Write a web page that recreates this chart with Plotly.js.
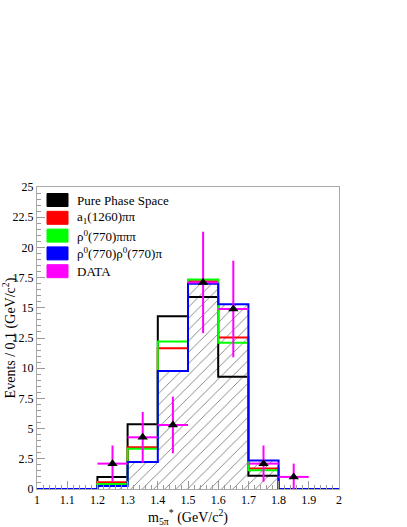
<!DOCTYPE html>
<html>
<head>
<meta charset="utf-8">
<script src="https://cdn.plot.ly/plotly-3.0.1.min.js"></script>
<style>html,body{margin:0;padding:0;background:#fff;}</style>
</head>
<body>
<div id="chart" style="width:407px;height:527px;"></div>
<script>
// Bin lower edges (width 0.1 GeV/c^2)
const binLow = [1.0, 1.1, 1.2, 1.3, 1.4, 1.5, 1.6, 1.7, 1.8, 1.9];
const binWidth = 0.1;

// MC histograms (events per bin)
const phaseSpace = [0, 0, 1.0, 5.35, 14.3, 15.9, 9.3, 1.1, 0, 0];
const a1PiPi     = [0, 0, 0.55, 3.45, 11.65, 17.2, 12.55, 1.7, 0, 0];
const rhoPiPiPi  = [0, 0, 0.42, 3.33, 12.2, 17.35, 12.1, 1.55, 0, 0];
const rhoRhoPi   = [0, 0, 0.25, 2.24, 9.77, 17.0, 15.3, 2.35, 0, 0];

// Data points
const dataX   = [1.25, 1.35, 1.45, 1.55, 1.65, 1.75, 1.85];
const dataY   = [2.1, 4.28, 5.3, 17.1, 14.9, 2.1, 1.0];
const dataErr = [1.5, 2.1, 2.35, 4.2, 4.0, 1.5, 1.1];

// Legend
const legendNames  = ['Pure Phase Space', 'a<sub>1</sub>(1260)ππ', 'ρ<sup>0</sup>(770)πππ', 'ρ<sup>0</sup>(770)ρ<sup>0</sup>(770)π', 'DATA'];
const legendColors = ['#000000', '#ff0000', '#00ff00', '#0000ff', '#ff00ff'];

const edges = binLow.concat([binLow[binLow.length - 1] + binWidth]);
function stepY(v) { return v.concat([v[v.length - 1]]); }
function step(v, color, w) {
  return {type: 'scatter', mode: 'lines', x: edges, y: stepY(v),
    line: {shape: 'hv', color: color, width: w}, showlegend: false, hoverinfo: 'skip'};
}

const centers = binLow.map(b => b + binWidth / 2);
const traces = [
  {type: 'bar', x: centers, y: rhoRhoPi, width: binWidth,
   marker: {color: 'rgba(255,255,255,0)', line: {width: 0},
            pattern: {shape: '/', fgcolor: '#6e6e6e', bgcolor: 'rgba(255,255,255,0)', size: 8, solidity: 0.1}},
   showlegend: false, hoverinfo: 'skip'},
  step(phaseSpace, '#000000', 2),
  step(a1PiPi, '#ff0000', 2),
  step(rhoPiPiPi, '#00ff00', 2),
  step(rhoRhoPi, '#0000ff', 2),
  {type: 'scatter', mode: 'markers', x: dataX, y: dataY,
   marker: {symbol: 'triangle-up', color: '#000000', size: 9},
   error_y: {type: 'data', array: dataErr, color: '#ff00ff', thickness: 2, width: 0},
   error_x: {type: 'constant', value: binWidth / 2, color: '#ff00ff', thickness: 2, width: 0},
   showlegend: false}
];

const font = "'Liberation Serif', 'Times New Roman', serif";
const plotBottom = 489, plotH = 302, plotL = 37, plotW = 302;
const rowY = [200, 217.8, 235.6, 253.4, 271.2];
const shapes = [], annotations = [];
legendNames.forEach((n, i) => {
  const yc = (plotBottom - rowY[i]) / plotH;
  shapes.push({type: 'rect', xref: 'paper', yref: 'paper',
    x0: (47 - plotL) / plotW, x1: (68 - plotL) / plotW,
    y0: yc - 6.5 / plotH, y1: yc + 6.5 / plotH,
    fillcolor: legendColors[i], line: {color: legendColors[i], width: 1}});
  annotations.push({xref: 'paper', yref: 'paper', x: (75 - plotL) / plotW, y: yc,
    xanchor: 'left', yanchor: 'middle', showarrow: false, text: n,
    font: {family: font, size: 13, color: '#000'}});
});

const layout = {
  width: 407, height: 527,
  margin: {l: plotL, r: 407 - plotL - plotW, t: 187, b: 527 - plotBottom},
  paper_bgcolor: '#fff', plot_bgcolor: '#fff',
  showlegend: false,
  bargap: 0,
  font: {family: font, size: 12, color: '#000'},
  xaxis: {range: [1, 2], dtick: 0.1, tick0: 1, ticks: 'inside', ticklen: 8, tickwidth: 1, tickcolor: '#999',
    minor: {dtick: 0.02, ticks: 'inside', ticklen: 4, tickcolor: '#999'},
    showline: true, linecolor: '#aaa', linewidth: 1, mirror: true, showgrid: false, zeroline: false,
    tickfont: {family: font, size: 12, color: '#000'},
    title: {text: 'm<sub>5π</sub><sup>*</sup> (GeV/c<sup>2</sup>)', font: {family: font, size: 14, color: '#000'}, standoff: 6}},
  yaxis: {range: [0, 25], dtick: 2.5, tick0: 0, ticks: 'inside', ticklen: 8, tickwidth: 1, tickcolor: '#999',
    minor: {dtick: 0.5, ticks: 'inside', ticklen: 4, tickcolor: '#999'},
    showline: true, linecolor: '#aaa', linewidth: 1, mirror: true, showgrid: false, zeroline: false,
    tickfont: {family: font, size: 12, color: '#000'},
    title: {text: 'Events / 0.1 (GeV/c<sup>2</sup>)', font: {family: font, size: 14, color: '#000'}, standoff: 4}},
  shapes: shapes,
  annotations: annotations
};

Plotly.newPlot('chart', traces, layout, {staticPlot: true, displayModeBar: false});
</script>
</body>
</html>
